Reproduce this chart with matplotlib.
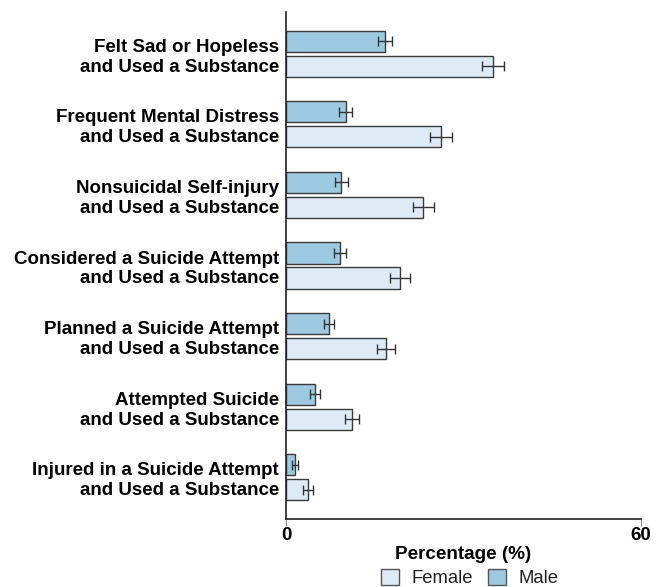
import numpy as np
import matplotlib.pyplot as plt
from matplotlib.patches import Patch

plt.rcParams['font.family'] = ['Liberation Sans', 'DejaVu Sans']

categories = [
    "Felt Sad or Hopeless\nand Used a Substance",
    "Frequent Mental Distress\nand Used a Substance",
    "Nonsuicidal Self-injury\nand Used a Substance",
    "Considered a Suicide Attempt\nand Used a Substance",
    "Planned a Suicide Attempt\nand Used a Substance",
    "Attempted Suicide\nand Used a Substance",
    "Injured in a Suicide Attempt\nand Used a Substance",
]
male = [16.7, 10.1, 9.3, 9.1, 7.3, 4.9, 1.5]
male_err = [1.2, 1.1, 1.1, 1.0, 0.85, 0.85, 0.5]
female = [35.0, 26.2, 23.2, 19.3, 16.9, 11.2, 3.7]
female_err = [1.9, 1.9, 1.8, 1.7, 1.5, 1.2, 0.8]

male_color = '#9ecae1'
female_color = '#deebf7'
edge = '#3a3a3a'

fig = plt.figure(figsize=(6.67, 5.87), dpi=100)
ax = fig.add_axes([0.4288, 0.1158, 0.5322, 0.8638])

y = np.arange(len(categories))
h = 0.30
off = 0.177
err_kw = dict(ecolor='#333333', elinewidth=1, capsize=3.5, capthick=1)

ax.barh(y - off, male, height=h, color=male_color, edgecolor=edge,
        linewidth=1, xerr=male_err, error_kw=err_kw)
ax.barh(y + off, female, height=h, color=female_color, edgecolor=edge,
        linewidth=1, xerr=female_err, error_kw=err_kw)

ax.set_ylim(len(categories) - 1 + 0.59, -0.59)
ax.set_xlim(0, 60)
ax.set_yticks(y)
ax.set_yticklabels(categories, fontsize=13.5, fontweight='bold', ha='right',
                   linespacing=1.22)
ax.tick_params(axis='y', length=0, pad=5)
ax.set_xticks([0, 60])
ax.set_xticklabels(['0', '60'], fontsize=13.5, fontweight='bold')
ax.tick_params(axis='x', length=5, color='#888888', pad=1)

for s in ['top', 'right']:
    ax.spines[s].set_visible(False)
ax.spines['left'].set_color('#222222')
ax.spines['bottom'].set_color('#222222')
ax.spines['left'].set_linewidth(1.2)
ax.spines['bottom'].set_linewidth(1.2)

ax.set_xlabel('Percentage (%)', fontsize=13.6, fontweight='bold', labelpad=1)

handles = [Patch(facecolor=female_color, edgecolor='#555555', label='Female'),
           Patch(facecolor=male_color, edgecolor='#555555', label='Male')]
fig.legend(handles=handles, loc='center', bbox_to_anchor=(0.704, 0.0153),
           ncol=2, frameon=False, fontsize=13.3, handlelength=1.0,
           handleheight=1.0, handletextpad=0.65, columnspacing=0.8,
           borderpad=0, labelcolor='#222222')

fig.savefig('out.png', dpi=100)
